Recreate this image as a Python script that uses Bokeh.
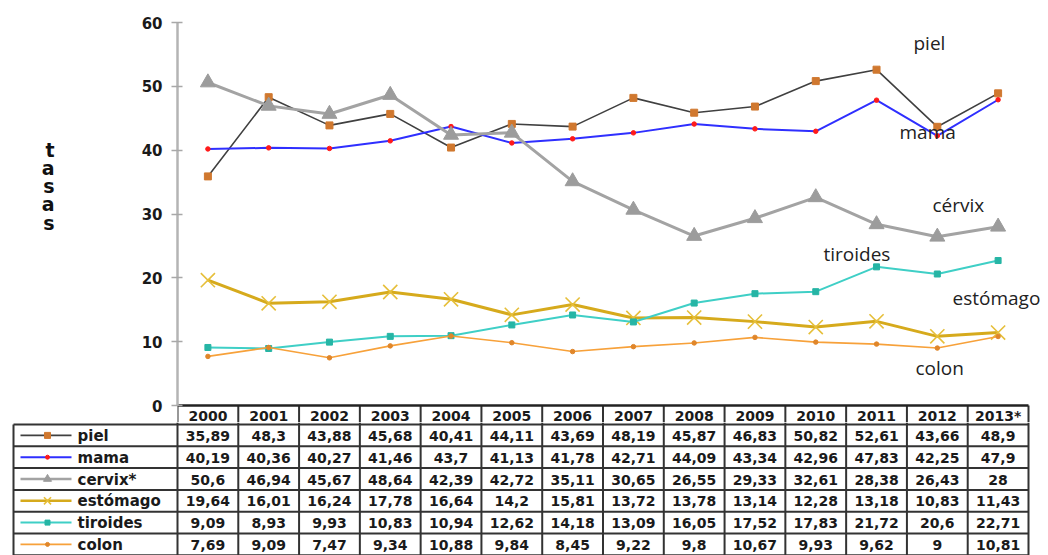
from bokeh.plotting import figure
from bokeh.models import Range1d, FixedTicker, Label
from bokeh.embed import file_html
from bokeh.resources import INLINE
from bokeh.core.properties import value

# ---------------- data ----------------
years = ["2000", "2001", "2002", "2003", "2004", "2005", "2006",
         "2007", "2008", "2009", "2010", "2011", "2012", "2013*"]
y_ticks = [0, 10, 20, 30, 40, 50, 60]
y_max = 60

piel = [35.89, 48.3, 43.88, 45.68, 40.41, 44.11, 43.69, 48.19, 45.87, 46.83, 50.82, 52.61, 43.66, 48.9]
mama = [40.19, 40.36, 40.27, 41.46, 43.7, 41.13, 41.78, 42.71, 44.09, 43.34, 42.96, 47.83, 42.25, 47.9]
cervix = [50.6, 46.94, 45.67, 48.64, 42.39, 42.72, 35.11, 30.65, 26.55, 29.33, 32.61, 28.38, 26.43, 28]
estomago = [19.64, 16.01, 16.24, 17.78, 16.64, 14.2, 15.81, 13.72, 13.78, 13.14, 12.28, 13.18, 10.83, 11.43]
tiroides = [9.09, 8.93, 9.93, 10.83, 10.94, 12.62, 14.18, 13.09, 16.05, 17.52, 17.83, 21.72, 20.6, 22.71]
colon = [7.69, 9.09, 7.47, 9.34, 10.88, 9.84, 8.45, 9.22, 9.8, 10.67, 9.93, 9.62, 9, 10.81]

table_names = ["piel", "mama", "cervix*", "estómago", "tiroides", "colon"]
chart_names = ["piel", "mama", "cérvix", "tiroides", "estómago", "colon"]
axis_title = "tasas"

series = [piel, mama, cervix, estomago, tiroides, colon]

# ---------------- styles ----------------
styles = [
    dict(line="#404040", lw=1.6, marker="square", fill="#d0782f", mline="#d0782f", size=7, lsize=6, mlw=1),
    dict(line="#2f2fff", lw=2.0, marker="circle", fill="#ff1a1a", mline="#ff1a1a", size=4.5, lsize=4, mlw=1),
    dict(line="#a3a3a3", lw=3.0, marker="triangle", fill="#9c9c9c", mline="#9c9c9c", size=15, lsize=8, mlw=1),
    dict(line="#d6aa1c", lw=3.0, marker="x", fill="#e6bf3a", mline="#e6bf3a", size=20, lsize=10, mlw=1.6),
    dict(line="#3fcfc6", lw=2.0, marker="square", fill="#26b5a5", mline="#26b5a5", size=6, lsize=5, mlw=1),
    dict(line="#f7a13a", lw=1.6, marker="circle", fill="#e0862a", mline="#e0862a", size=4.5, lsize=4, mlw=1),
]
# chart-label anchor (left edge, vertical middle) in page pixels
label_px = {"piel": (913, 42), "mama": (899, 131), "cérvix": (932, 204),
            "tiroides": (823, 253), "estómago": (952, 297), "colon": (915, 367)}

# ---------------- geometry (page pixels; Bokeh page has no body margin) ----------------
FIG_W = 1048
FRAME_L_PAGE = 177         # y-axis / left edge of first year column
COL_R_PAGE = 1028          # right edge of last table column
CHART_R_PAGE = 1046        # chart frame right edge
FRAME_TOP_PAGE = 22        # y = 60
ZERO_PAGE = 405            # y = 0 (table header top)
CHART_BOT_PAGE = 422       # chart figure ends inside the header row
HDR_BOT_PAGE = 424         # header row bottom
PAGE_H = 555
ROW_H = 21.8
n = len(years)
ppu = (COL_R_PAGE - FRAME_L_PAGE) / n
ppy = (ZERO_PAGE - FRAME_TOP_PAGE) / y_max
xs = list(range(n))


def cx(px):
    return -0.5 + (px - FRAME_L_PAGE) / ppu


def cy(py):
    return (ZERO_PAGE - py) / ppy


grid_col = "#333333"
right = n - 0.5
vx = [-0.5 + k for k in range(n + 1)]

# ---------------- chart ----------------
chart = figure(width=FIG_W, height=CHART_BOT_PAGE,
               x_range=Range1d(-0.5, cx(CHART_R_PAGE)), y_range=Range1d(cy(CHART_BOT_PAGE), y_max),
               output_backend="svg", toolbar_location=None,
               x_axis_location=None,
               min_border_left=FRAME_L_PAGE,
               min_border_right=FIG_W - CHART_R_PAGE,
               min_border_top=FRAME_TOP_PAGE, min_border_bottom=0,
               outline_line_color=None, background_fill_color="white",
               border_fill_color="white")
chart.grid.visible = False
ax = chart.yaxis[0]
ax.ticker = FixedTicker(ticks=y_ticks)
ax.bounds = (0, y_max)
ax.axis_line_color = "#b4b4b4"
ax.axis_line_width = 2.5
ax.major_tick_line_color = "#a8a8a8"
ax.major_tick_line_width = 1.5
ax.major_tick_in = 5
ax.major_tick_out = 6
ax.minor_tick_line_color = None
ax.major_label_standoff = 9
ax.major_label_text_font = "DejaVu Sans"
ax.major_label_text_font_style = "bold"
ax.major_label_text_font_size = "15px"
ax.major_label_text_color = "#1a1a1a"
# stacked (horizontal letters) axis title
ax.axis_label = "\n".join(axis_title) + "\n \n \n \n "
ax.axis_label_orientation = "horizontal"
ax.axis_label_standoff = 84
ax.axis_label_text_font = "DejaVu Sans"
ax.axis_label_text_font_style = "bold"
ax.axis_label_text_font_size = "19px"
ax.axis_label_text_color = "#111111"
ax.axis_label_text_line_height = 0.82

# header row (years) drawn just below y = 0
chart.segment(x0=vx, y0=[0] * len(vx), x1=vx, y1=[cy(CHART_BOT_PAGE)] * len(vx),
              line_color=grid_col, line_width=2)
chart.segment(x0=[-0.5], y0=[0], x1=[right], y1=[0], line_color="#222222", line_width=2.5)
chart.text(x=xs, y=[cy((ZERO_PAGE + HDR_BOT_PAGE) / 2 + 0.5)] * n, text=years,
           text_font=value("DejaVu Sans"), text_font_style="bold", text_font_size="14px",
           text_color="#1a1a1a", text_align="center", text_baseline="middle")

for vals, st in zip(series, styles):
    chart.line(xs, vals, line_color=st["line"], line_width=st["lw"])
    chart.scatter(xs, vals, marker=st["marker"], size=st["size"],
                  fill_color=st["fill"], line_color=st["mline"], line_width=st["mlw"])

for name in chart_names:
    px, py = label_px[name]
    chart.add_layout(Label(x=cx(px), y=cy(py), text=name, text_font="Open Sans",
                           text_font_size="19px", text_color="#222222",
                           text_baseline="middle", text_align="left"))

# ---------------- table body ----------------
TAB_L_PAGE = 11
TAB_R_PAGE = 1032
LEG_L_PAGE = 13
TABLE_H = PAGE_H - CHART_BOT_PAGE
x_leg = cx(LEG_L_PAGE)

table = figure(width=FIG_W, height=TABLE_H,
               x_range=Range1d(cx(TAB_L_PAGE), cx(TAB_R_PAGE)), y_range=Range1d(TABLE_H, 0),
               output_backend="svg", toolbar_location=None,
               x_axis_location=None, y_axis_location=None,
               min_border_left=TAB_L_PAGE,
               min_border_right=FIG_W - TAB_R_PAGE,
               min_border_top=0, min_border_bottom=0,
               outline_line_color=None, background_fill_color="white",
               border_fill_color="white")
table.grid.visible = False

nrows = len(table_names)
hdr_bot = HDR_BOT_PAGE - CHART_BOT_PAGE
row_tops = [hdr_bot + k * ROW_H for k in range(nrows + 1)]

table.segment(x0=vx, y0=[0] * len(vx), x1=vx, y1=[TABLE_H] * len(vx),
              line_color=grid_col, line_width=2)
table.segment(x0=[x_leg], y0=[hdr_bot], x1=[x_leg], y1=[TABLE_H],
              line_color=grid_col, line_width=2)
table.segment(x0=[x_leg] * len(row_tops), y0=row_tops, x1=[right] * len(row_tops), y1=row_tops,
              line_color=grid_col, line_width=2)

cx_list, cy_list, ct_list = [], [], []
for r, vals in enumerate(series):
    yc = row_tops[r] + ROW_H / 2 + 0.5
    for i, v in enumerate(vals):
        cx_list.append(i)
        cy_list.append(yc)
        ct_list.append(f"{v:g}".replace(".", ","))
table.text(x=cx_list, y=cy_list, text=ct_list,
           text_font=value("DejaVu Sans"), text_font_style="bold", text_font_size="14px",
           text_color="#1a1a1a", text_align="center", text_baseline="middle")

lx0 = x_leg + 7 / ppu
lx1 = x_leg + 58 / ppu
lmx = x_leg + 34 / ppu
ltx = x_leg + 64 / ppu
for r, (name, st) in enumerate(zip(table_names, styles)):
    yc = row_tops[r] + ROW_H / 2
    table.segment(x0=[lx0], y0=[yc], x1=[lx1], y1=[yc], line_color=st["line"],
                  line_width=min(st["lw"], 2.5))
    table.scatter(x=[lmx], y=[yc], marker=st["marker"], size=st["lsize"],
                  fill_color=st["fill"], line_color=st["mline"], line_width=st["mlw"])
table.text(x=[ltx] * nrows, y=[row_tops[r] + ROW_H / 2 + 0.5 for r in range(nrows)], text=table_names,
           text_font=value("DejaVu Sans"), text_font_style="bold", text_font_size="15px",
           text_color="#1a1a1a", text_align="left", text_baseline="middle")

open("out.html", "w").write(file_html([chart, table], INLINE))
